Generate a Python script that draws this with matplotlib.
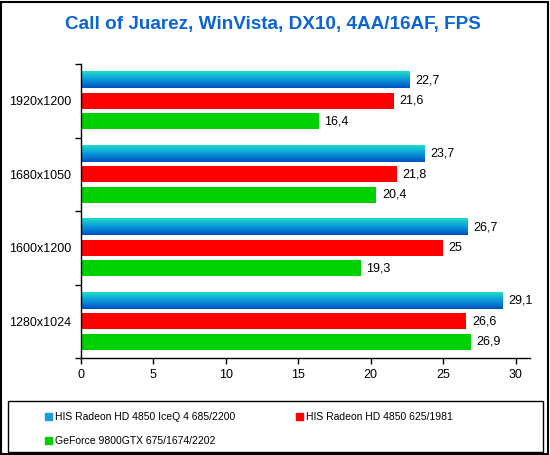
import numpy as np
import matplotlib.pyplot as plt
from matplotlib.patches import Rectangle, Patch
from matplotlib.colors import LinearSegmentedColormap

plt.rcParams['font.family'] = ['Liberation Sans', 'DejaVu Sans']

title = "Call of Juarez, WinVista, DX10, 4AA/16AF, FPS"
resolutions = ["1920x1200", "1680x1050", "1600x1200", "1280x1024"]
series_names = ["HIS Radeon HD 4850 IceQ 4 685/2200",
                "HIS Radeon HD 4850 625/1981",
                "GeForce 9800GTX 675/1674/2202"]
iceq = [22.7, 23.7, 26.7, 29.1]
radeon = [21.6, 21.8, 25.0, 26.6]
geforce = [16.4, 20.4, 19.3, 26.9]
xticks = [0, 5, 10, 15, 20, 25, 30]


def fmt(v):
    s = ('%g' % v)
    return s.replace('.', ',')


fig = plt.figure(figsize=(5.5, 4.55), dpi=100)
ax = fig.add_axes([81/550, 97/455, 449/550, 294/455])

n = len(resolutions)
# top group first
ypos = np.arange(n)[::-1].astype(float)
h = 0.218
off = 0.279

blue_cmap = LinearSegmentedColormap.from_list('bl', ['#0050c0', '#0a98dc', '#20dcc8'])
grad = np.linspace(0, 1, 64).reshape(-1, 1)

# gradient bars for the IceQ series
blue_bars = ax.barh(ypos + off, iceq, height=h, color='none', edgecolor='none')
for b in blue_bars:
    x0, y0 = b.get_x(), b.get_y()
    ax.imshow(grad, cmap=blue_cmap, aspect='auto', origin='lower',
              extent=[x0, x0 + b.get_width(), y0, y0 + b.get_height()], zorder=2)
red_bars = ax.barh(ypos, radeon, height=h, color='#ff0000', zorder=2)
green_bars = ax.barh(ypos - off, geforce, height=h, color='#00d000', zorder=2)

for bars, vals in [(blue_bars, iceq), (red_bars, radeon), (green_bars, geforce)]:
    ax.bar_label(bars, labels=[fmt(v) for v in vals], padding=4, fontsize=9)

ax.set_xlim(0, 31)
ax.set_ylim(-0.5, n - 0.5)
ax.set_xticks(xticks)
ax.set_xticklabels([str(t) for t in xticks], fontsize=9)
ax.set_yticks(ypos)
ax.set_yticklabels(resolutions, fontsize=9)
ax.set_yticks(np.arange(n + 1) - 0.5, minor=True)
ax.tick_params(axis='y', which='major', length=0, pad=7)
ax.tick_params(axis='y', which='minor', length=4, width=1)
ax.tick_params(axis='x', length=4, width=1, pad=4)
for s in ['top', 'right']:
    ax.spines[s].set_visible(False)
for s in ['left', 'bottom']:
    ax.spines[s].set_linewidth(1)

fig.text(273/550, 1 - 25/455, title, ha='center', va='center',
         fontsize=13.6, fontweight='bold', color='#0a64d2')

# legend frame and entries (row-major order: matplotlib fills columns first)
fig.patches.append(Rectangle((8/550, 3/455), 535/550, 51/455, transform=fig.transFigure,
                             fill=False, edgecolor='black', linewidth=1))
handles = [Patch(color='#1a9ad6'), Patch(color='#ff0000'), Patch(color='#00d000')]
order = [0, 2, 1]
leg = fig.legend([handles[i] for i in order], [series_names[i] for i in order],
                 ncol=2, loc='upper left',
                 bbox_to_anchor=(36/550, 1 - 403/455), frameon=False, fontsize=7.5,
                 handlelength=0.6, handleheight=0.6, handletextpad=0.3,
                 columnspacing=5.9, labelspacing=1.35)

# outer border
fig.patches.append(Rectangle((1/550, 1/455), 547/550, 452/455, transform=fig.transFigure,
                             fill=False, edgecolor='black', linewidth=1.5))

fig.savefig('out.png', dpi=100)
